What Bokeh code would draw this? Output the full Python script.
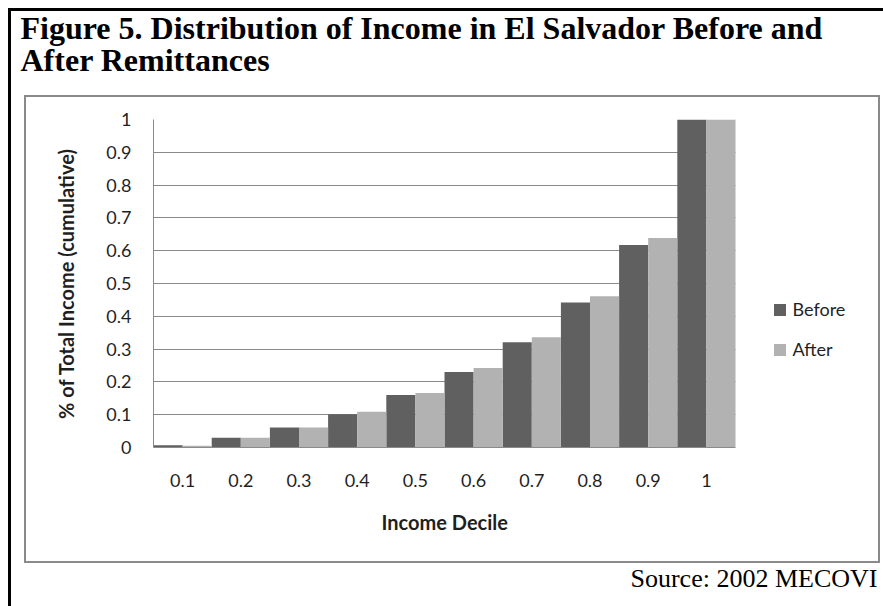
import math
from bokeh.plotting import figure
from bokeh.models import (ColumnDataSource, Range1d, FixedTicker,
                          CustomJSTickFormatter, Title, Legend, LegendItem)
from bokeh.transform import dodge
from bokeh.embed import file_html
from bokeh.resources import INLINE

# ---------------- data ----------------
deciles = ["0.1", "0.2", "0.3", "0.4", "0.5", "0.6", "0.7", "0.8", "0.9", "1"]
before = [0.007, 0.030, 0.061, 0.101, 0.160, 0.230, 0.321, 0.442, 0.617, 1.0]
after = [0.005, 0.030, 0.061, 0.109, 0.166, 0.242, 0.336, 0.461, 0.639, 1.0]
y_ticks = [0, 0.1, 0.2, 0.3, 0.4, 0.5, 0.6, 0.7, 0.8, 0.9, 1.0]
series_names = ["Before", "After"]
series_colors = ["#606060", "#b2b2b2"]

title_lines = ["Figure 5. Distribution of Income in El Salvador Before and",
               "After Remittances"]
x_title = "Income Decile"
y_title = "% of Total Income (cumulative)"
source_note = "Source: 2002 MECOVI"

# ---------------- layout ----------------
W, H = 883, 606
PL, PR, PT, PB = 153, 735, 119, 447   # plot-area edges (axes box) in pixels
FR = 880                              # frame extends right to hold the legend

n = len(deciles)
x_end = n * (FR - PL) / (PR - PL)

FONT = "Lato"
TEXT_COLOR = "#1f1f1f"
GRID_COLOR = "#8a8a8a"

xc = [i + 0.5 for i in range(n)]      # category centres
src = ColumnDataSource(dict(xc=xc, decile=deciles, before=before, after=after))

p = figure(width=W, height=H, title=None,
           x_range=Range1d(0, x_end), y_range=Range1d(0, 1),
           output_backend="svg", toolbar_location=None,
           min_border_left=PL, min_border_right=W - FR,
           min_border_top=PT, min_border_bottom=H - PB)
p.background_fill_color = None
p.border_fill_color = None
p.outline_line_color = None

# decorative page frames (outer black corner lines, inner grey chart box)
def seg(x, y, w, h, c):
    return (f"linear-gradient({c},{c})", f"{x}px {y}px", f"{w}px {h}px")

segs = [
    seg(8, 8, 880, 3, "#000000"),      # outer top
    seg(8, 8, 3, 600, "#000000"),      # outer left
    seg(24, 95, 856, 2, GRID_COLOR),   # inner top
    seg(24, 561, 856, 2, GRID_COLOR),  # inner bottom
    seg(24, 95, 2, 468, GRID_COLOR),   # inner left
    seg(878, 95, 2, 468, GRID_COLOR),  # inner right
]
p.styles = {
    "background-color": "white",
    "background-image": ", ".join(s[0] for s in segs),
    "background-position": ", ".join(s[1] for s in segs),
    "background-size": ", ".join(s[2] for s in segs),
    "background-repeat": "no-repeat",
}

# horizontal grid lines, limited to the plot area
p.xgrid.visible = False
grid = p.ygrid[0]
grid.ticker = FixedTicker(ticks=y_ticks[1:])
grid.bounds = (0, 1)
grid.grid_line_color = GRID_COLOR
grid.grid_line_width = 1
if "cross_bounds" in grid.properties():
    grid.cross_bounds = (0, n)
else:
    grid.visible = False
    p.segment(x0=[0] * (len(y_ticks) - 1), x1=[n] * (len(y_ticks) - 1),
              y0=y_ticks[1:], y1=y_ticks[1:], line_color=GRID_COLOR,
              line_width=1, level="underlay")

r1 = p.vbar(x=dodge("xc", -0.25), top="before", width=0.5,
            source=src, fill_color=series_colors[0], line_color=None)
r2 = p.vbar(x=dodge("xc", 0.25), top="after", width=0.5,
            source=src, fill_color=series_colors[1], line_color=None)

# axes
for ax in (p.xaxis[0], p.yaxis[0]):
    ax.axis_line_color = GRID_COLOR
    ax.axis_line_width = 1
    ax.major_tick_out = 0
    ax.major_tick_in = 0
    ax.minor_tick_out = 0
    ax.minor_tick_in = 0
    ax.major_label_text_font = FONT
    ax.major_label_text_font_size = "18px"
    ax.major_label_text_color = TEXT_COLOR

p.yaxis.ticker = FixedTicker(ticks=y_ticks)
p.yaxis.bounds = (0, 1)
p.yaxis.formatter = CustomJSTickFormatter(code="return String(Math.round(tick*10)/10);")
p.yaxis.major_label_standoff = 22
p.yaxis.axis_label = y_title
p.yaxis.axis_label_standoff = 25
p.yaxis.axis_label_text_font = FONT
p.yaxis.axis_label_text_font_style = "bold"
p.yaxis.axis_label_text_font_size = "20px"
p.yaxis.axis_label_text_color = TEXT_COLOR

p.xaxis.ticker = FixedTicker(ticks=xc)
p.xaxis.bounds = (0, n)
p.xaxis.formatter = CustomJSTickFormatter(args=dict(labels=deciles),
                                          code="return labels[Math.floor(tick)];")
p.xaxis.major_label_standoff = 26

# x-axis title and source note as titles below the axis (left-anchored offsets)
t_x = Title(text=x_title, align="left", offset=381 - PL, standoff=36,
            vertical_align="bottom", text_font=FONT, text_font_style="bold",
            text_font_size="20px", text_color=TEXT_COLOR)
t_src = Title(text=source_note, align="left", offset=630 - PL, standoff=20,
              vertical_align="bottom", text_font="Liberation Serif",
              text_font_style="normal", text_font_size="26px", text_color="black")
p.add_layout(t_x, "below")
p.add_layout(t_src, "below")

# legend (inside the extended frame)
legend = Legend(items=[LegendItem(label=series_names[0], renderers=[r1]),
                       LegendItem(label=series_names[1], renderers=[r2])],
                location=(771.5 - PL, PB - 360),
                glyph_width=15, glyph_height=15, label_height=15,
                label_standoff=6, spacing=18, padding=0, margin=0,
                border_line_color=None, background_fill_alpha=0,
                label_text_font=FONT, label_text_font_size="18px",
                label_text_color=TEXT_COLOR)
p.add_layout(legend, "center")

# two-line figure title above
t2 = Title(text=title_lines[1], align="left", offset=20 - PL, standoff=77.6,
           vertical_align="top",
           text_font="Liberation Serif", text_font_style="bold",
           text_font_size="32px", text_color="black")
t1 = Title(text=title_lines[0], align="left", offset=20 - PL, standoff=-84.4,
           vertical_align="bottom",
           text_font="Liberation Serif", text_font_style="bold",
           text_font_size="32px", text_color="black")
p.add_layout(t2, "above")
p.add_layout(t1, "above")

open("out.html", "w").write(file_html(p, INLINE))
